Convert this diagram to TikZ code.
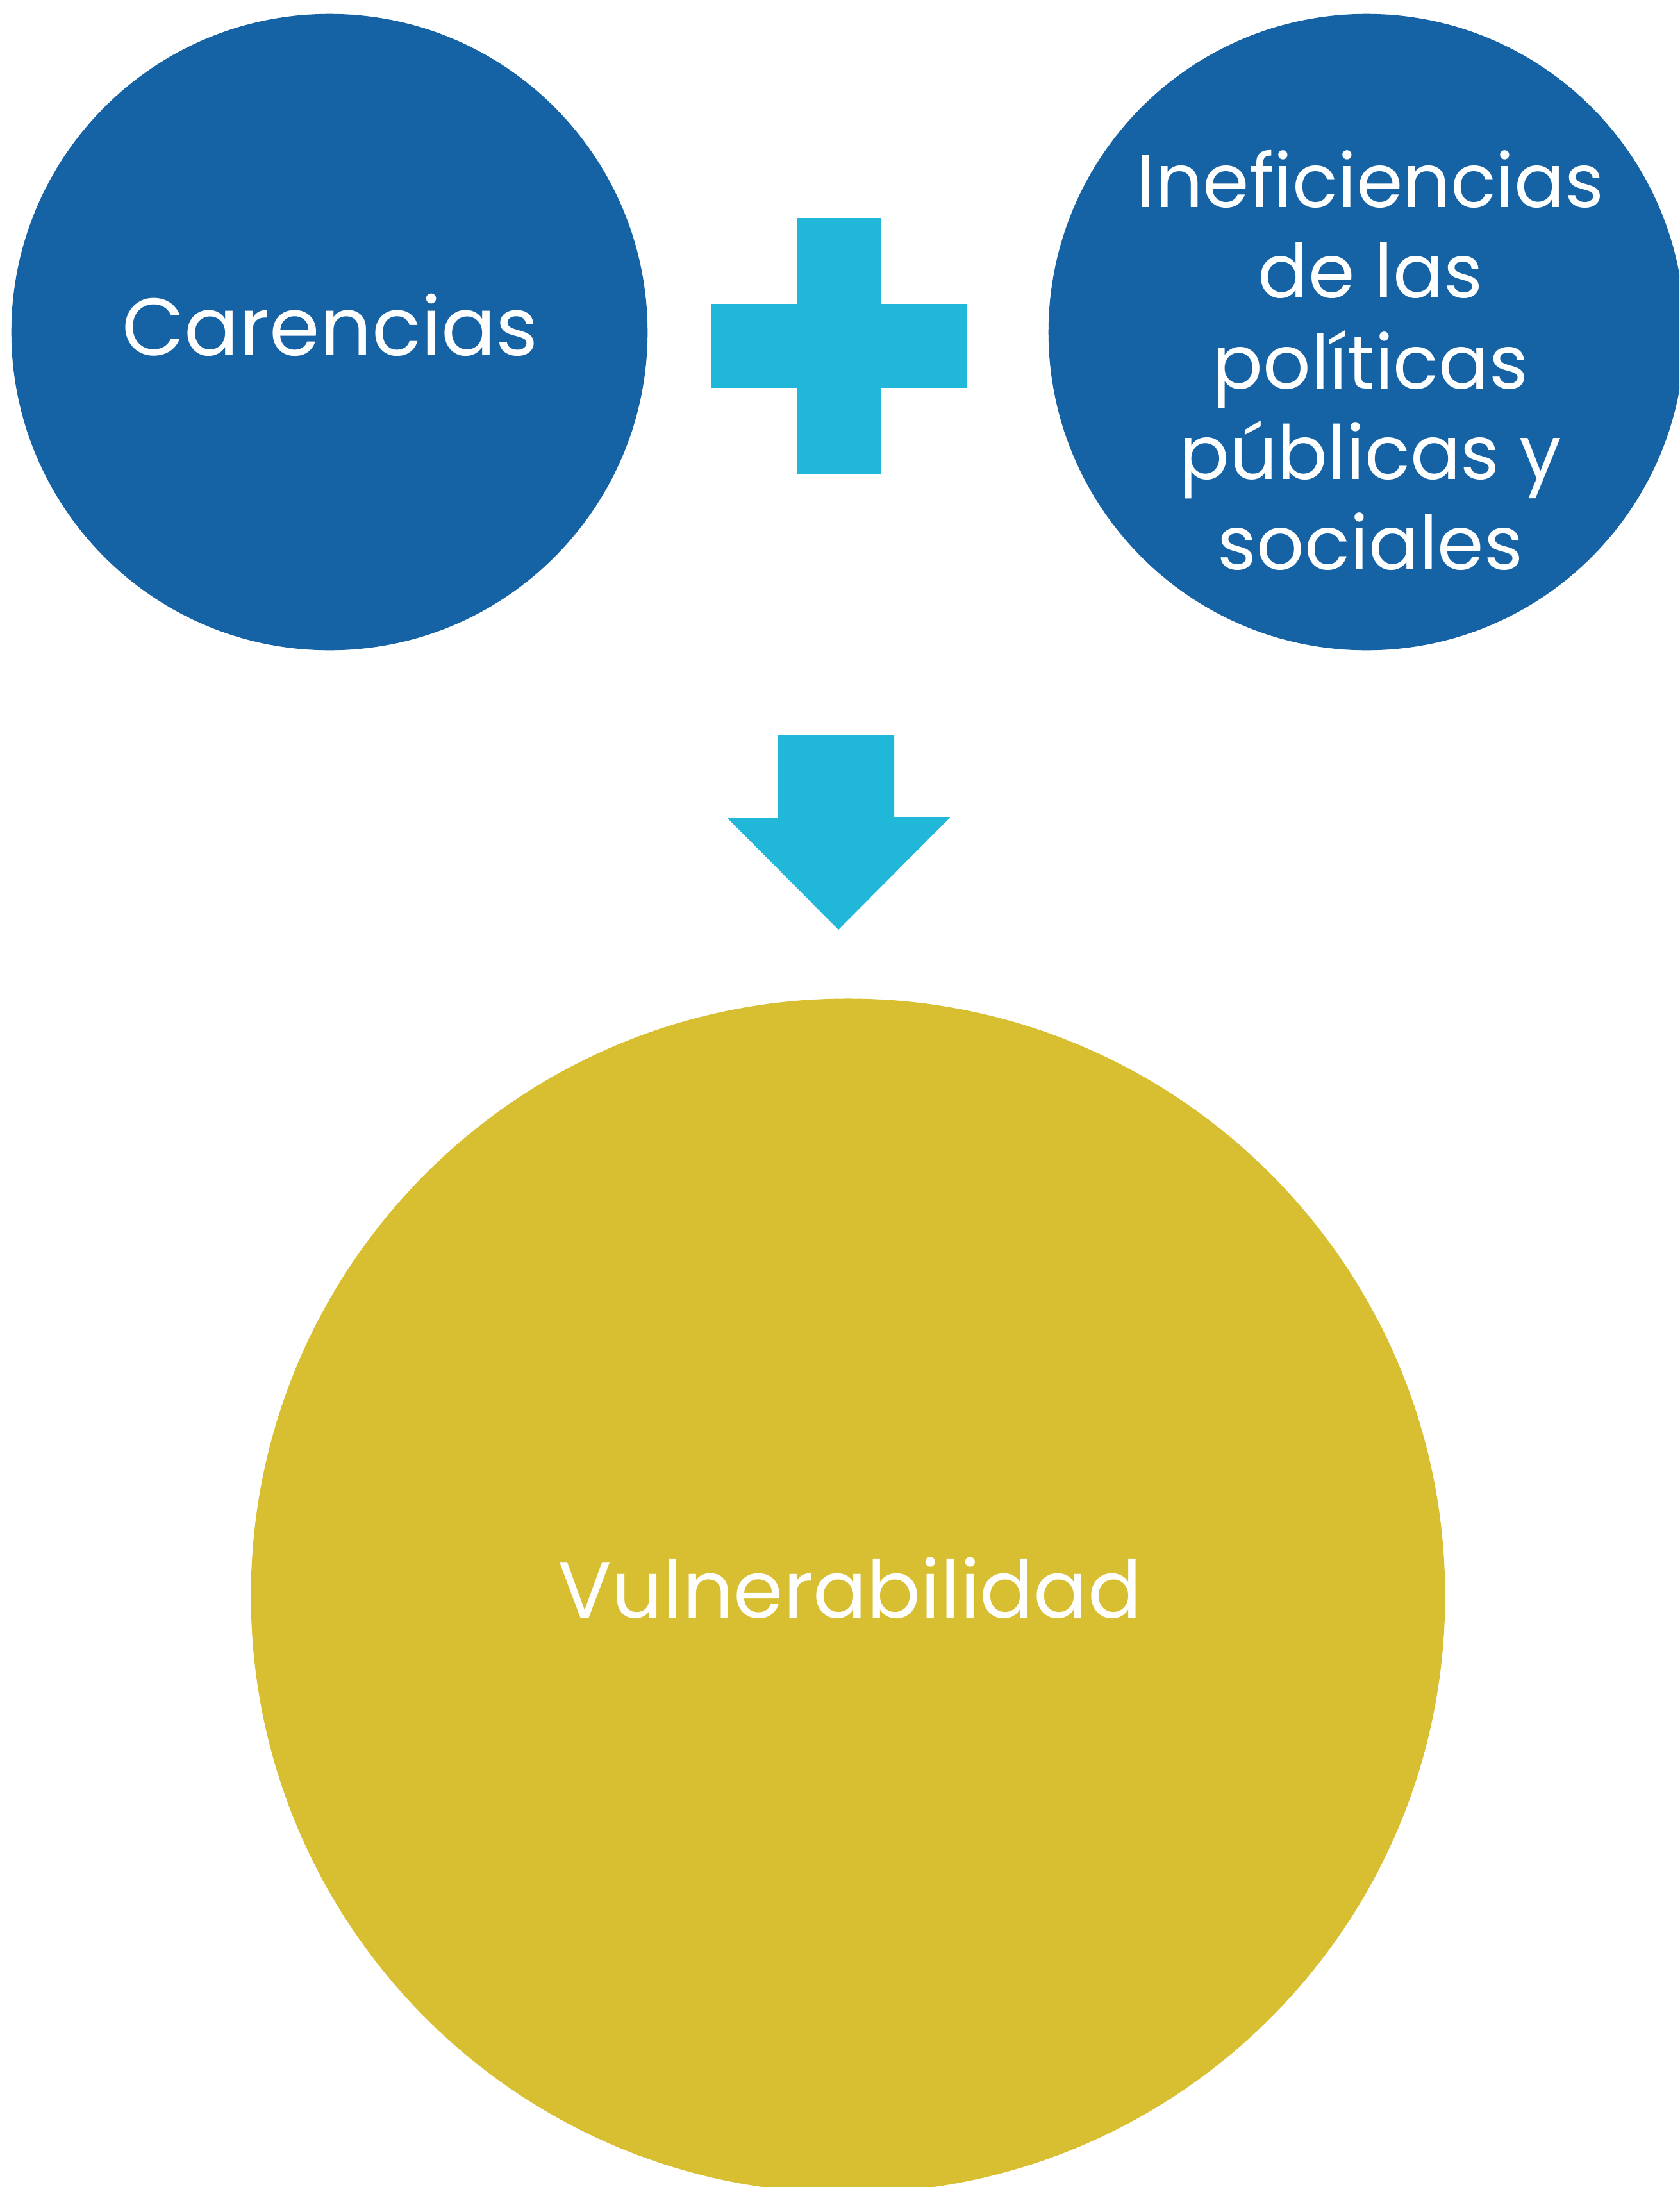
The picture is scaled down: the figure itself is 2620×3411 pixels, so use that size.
\documentclass[tikz,border=0pt]{standalone}
\usepackage{fontspec}
\setmainfont{Poppins}
\definecolor{CircleBlue}{HTML}{1562A5}
\definecolor{SignCyan}{HTML}{20B7D9}
\definecolor{CircleGold}{HTML}{D8BE31}
\tikzset{
  bubble/.style={circle,inner sep=0pt},
  bubbletext/.style={inner sep=0pt,text=white,align=center},
}
\begin{document}
\begin{tikzpicture}[x=0.01cm,y=-0.01cm]
  \useasboundingbox (0,0) rectangle (2620,3411);
  \clip (0,0) rectangle (2620,3411);
  \node[bubble,fill=CircleBlue,minimum size=9.92cm] (car) at (514,518) {};
  \node[bubble,fill=CircleBlue,minimum size=9.92cm] (ine) at (2132,518) {};
  \node[bubble,fill=CircleGold,minimum size=18.62cm] (vul) at (1323,2489) {};
  \node[bubbletext,anchor=base,font=\fontsize{36}{40}\selectfont] (cartext) at (515,554) {Carencias};
  \node[bubbletext,anchor=center,font=\fontsize{33.2}{40.2}\selectfont] (inetext) at (2138,562) {Ineficiencias\\de las\\políticas\\públicas y\\sociales};
  \node[bubbletext,anchor=base,font=\fontsize{35.4}{40}\selectfont] (vultext) at (1326,2523) {Vulnerabilidad};
  % plus sign
  \fill[SignCyan] (1243,340) rectangle (1374,739);
  \fill[SignCyan] (1109,474) rectangle (1508,605);
  % down arrow
  \fill[SignCyan] (1214,1146)--(1395,1146)--(1395,1275)--(1482,1275)--(1308,1450)--(1135,1276)--(1214,1276)--cycle;
\end{tikzpicture}
\end{document}
